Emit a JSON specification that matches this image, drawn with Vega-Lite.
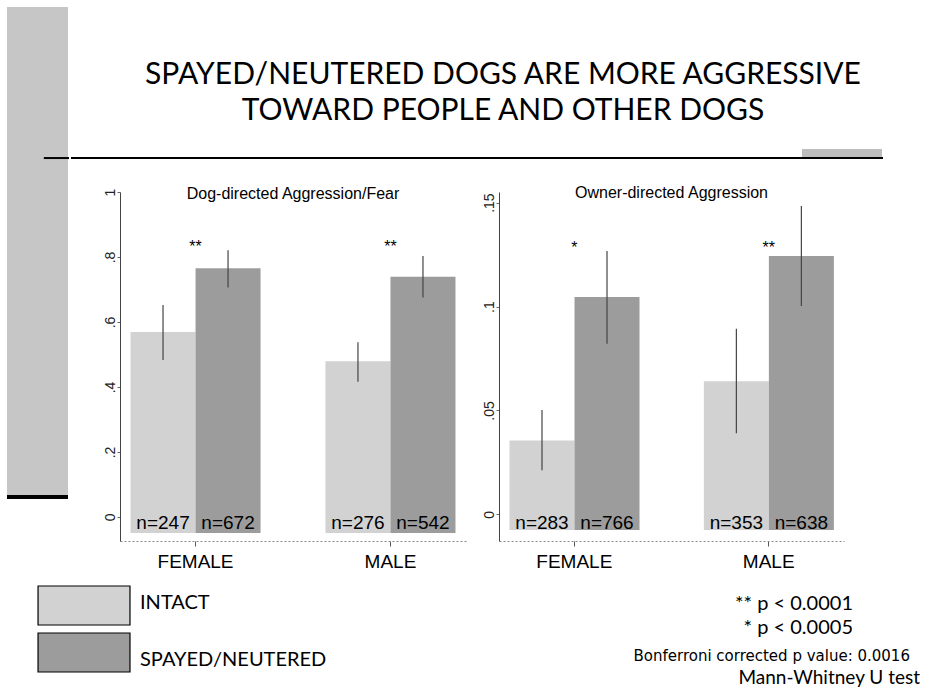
{
  "$schema": "https://vega.github.io/schema/vega-lite/v6.json",
  "background": "white",
  "padding": {"left": 5, "top": 7, "right": 0, "bottom": 0},
  "config": {"view": {"stroke": null}, "font": "Liberation Sans"},
  "datasets": {
    "dog": [
      {"sex": "FEMALE", "group": "INTACT", "mean": 0.569, "lo": 0.483, "hi": 0.652, "n": 247, "sig": ""},
      {"sex": "FEMALE", "group": "SPAYED/NEUTERED", "mean": 0.765, "lo": 0.706, "hi": 0.821, "n": 672, "sig": "**"},
      {"sex": "MALE", "group": "INTACT", "mean": 0.479, "lo": 0.416, "hi": 0.538, "n": 276, "sig": ""},
      {"sex": "MALE", "group": "SPAYED/NEUTERED", "mean": 0.739, "lo": 0.675, "hi": 0.803, "n": 542, "sig": "**"}
    ],
    "owner": [
      {"sex": "FEMALE", "group": "INTACT", "mean": 0.0356, "lo": 0.0212, "hi": 0.0502, "n": 283, "sig": ""},
      {"sex": "FEMALE", "group": "SPAYED/NEUTERED", "mean": 0.1046, "lo": 0.0821, "hi": 0.1267, "n": 766, "sig": "*"},
      {"sex": "MALE", "group": "INTACT", "mean": 0.0641, "lo": 0.039, "hi": 0.0893, "n": 353, "sig": ""},
      {"sex": "MALE", "group": "SPAYED/NEUTERED", "mean": 0.1243, "lo": 0.1002, "hi": 0.1484, "n": 638, "sig": "**"}
    ],
    "groups": [
      {"group": "INTACT"},
      {"group": "SPAYED/NEUTERED"}
    ]
  },
  "spacing": 4,
  "vconcat": [
    {
      "spacing": 0,
      "hconcat": [
        {
          "width": 61,
          "height": 492,
          "data": {"values": [{}]},
          "layer": [
            {
              "mark": {"type": "rect", "color": "#c6c6c6"},
              "encoding": {
                "x": {"datum": 0, "type": "quantitative", "scale": {"domain": [0, 1], "nice": false}, "axis": null},
                "x2": {"datum": 1},
                "y": {"datum": 0.008, "type": "quantitative", "scale": {"domain": [0, 1], "nice": false}, "axis": null},
                "y2": {"datum": 1}
              }
            },
            {
              "mark": {"type": "rule", "color": "black", "strokeWidth": 4},
              "encoding": {
                "x": {"datum": 0, "type": "quantitative"},
                "x2": {"datum": 1},
                "y": {"datum": 0.004, "type": "quantitative"}
              }
            },
            {
              "mark": {"type": "rule", "color": "black", "strokeWidth": 2, "strokeCap": "square"},
              "encoding": {
                "x": {"datum": 0.62, "type": "quantitative"},
                "x2": {"datum": 1},
                "y": {"datum": 0.693, "type": "quantitative"}
              }
            }
          ]
        },
        {
          "spacing": 25,
          "vconcat": [
            {
              "width": 762,
              "height": 151,
              "data": {"values": [{}]},
              "layer": [
                {
                  "mark": {"type": "rect", "color": "#bdbdbd"},
                  "encoding": {
                    "x": {"datum": 0.895, "type": "quantitative", "scale": {"domain": [0, 1], "nice": false}, "axis": null},
                    "x2": {"datum": 1.0},
                    "y": {"datum": 0.0, "type": "quantitative", "scale": {"domain": [0, 1], "nice": false}, "axis": null},
                    "y2": {"datum": 0.06}
                  }
                },
                {
                  "mark": {"type": "rule", "color": "black", "strokeWidth": 2, "strokeCap": "square"},
                  "encoding": {
                    "x": {"datum": -0.063, "type": "quantitative"},
                    "x2": {"datum": 1.0},
                    "y": {"datum": 0, "type": "quantitative"}
                  }
                },
                {
                  "mark": {"type": "text", "text": "SPAYED/NEUTERED DOGS ARE MORE AGGRESSIVE", "font": "Lato", "fontSize": 30, "align": "center", "baseline": "middle", "color": "black"},
                  "encoding": {
                    "x": {"datum": 0.5026, "type": "quantitative"},
                    "y": {"datum": 0.55, "type": "quantitative"}
                  }
                },
                {
                  "mark": {"type": "text", "text": "TOWARD PEOPLE AND OTHER DOGS", "font": "Lato", "fontSize": 30, "align": "center", "baseline": "middle", "color": "black"},
                  "encoding": {
                    "x": {"datum": 0.5026, "type": "quantitative"},
                    "y": {"datum": 0.31, "type": "quantitative"}
                  }
                }
              ]
            },
            {
              "spacing": 10,
              "hconcat": [
                {
                  "data": {"name": "dog"},
                  "width": 346,
                  "height": 349,
                  "title": {"text": "Dog-directed Aggression/Fear", "font": "Liberation Sans", "fontSize": 16, "fontWeight": "normal", "color": "black", "baseline": "alphabetic", "offset": -27, "anchor": "middle", "frame": "group"},
                  "transform": [{"calculate": "'n=' + datum.n", "as": "nlab"}],
                  "encoding": {
                    "x": {
                      "field": "sex", "type": "nominal",
                      "scale": {"paddingInner": 0.333, "paddingOuter": 0.054},
                      "axis": {"title": null, "labelAngle": 0, "labelFont": "Liberation Sans", "labelFontSize": 19, "labelColor": "black", "labelPadding": 6, "tickSize": 5, "tickColor": "#555", "domainColor": "#888", "domainDash": [2, 2]}
                    }
                  },
                  "layer": [
                    {
                      "mark": {"type": "bar"},
                      "encoding": {
                        "xOffset": {"field": "group", "type": "nominal"},
                        "y": {
                          "field": "mean", "type": "quantitative",
                          "scale": {"domain": [-0.074, 1], "nice": false, "zero": false},
                          "axis": {"values": [0, 0.2, 0.4, 0.6, 0.8, 1], "format": "~g", "labelExpr": "replace(datum.label, '0.', '.')", "labelAngle": -90, "labelAlign": "center", "labelBaseline": "bottom", "labelFontSize": 14, "labelColor": "#222", "labelPadding": 0, "tickSize": 3, "tickColor": "#666", "domainColor": "#444", "grid": false, "title": null, "minExtent": 48, "maxExtent": 48}
                        },
                        "y2": {"datum": -0.049},
                        "color": {
                          "field": "group", "type": "nominal",
                          "scale": {"domain": ["INTACT", "SPAYED/NEUTERED"], "range": ["#d2d2d2", "#9c9c9c"]},
                          "legend": null
                        }
                      }
                    },
                    {
                      "mark": {"type": "rule", "color": "#444", "strokeWidth": 1.2},
                      "encoding": {
                        "xOffset": {"field": "group", "type": "nominal"},
                        "y": {"field": "lo", "type": "quantitative"},
                        "y2": {"field": "hi"}
                      }
                    },
                    {
                      "mark": {"type": "text", "font": "Liberation Sans", "fontSize": 19, "baseline": "alphabetic", "align": "center", "color": "black"},
                      "encoding": {
                        "xOffset": {"field": "group", "type": "nominal"},
                        "y": {"datum": -0.037, "type": "quantitative"},
                        "text": {"field": "nlab"}
                      }
                    },
                    {
                      "transform": [{"filter": "datum.sig != ''"}],
                      "mark": {"type": "text", "font": "Liberation Sans", "fontSize": 16, "baseline": "alphabetic", "align": "center", "color": "black"},
                      "encoding": {
                        "y": {"datum": 0.815, "type": "quantitative"},
                        "text": {"field": "sig"}
                      }
                    }
                  ]
                },
                {
                  "data": {"name": "owner"},
                  "width": 345,
                  "height": 349,
                  "title": {"text": "Owner-directed Aggression", "font": "Liberation Sans", "fontSize": 16, "fontWeight": "normal", "color": "black", "baseline": "alphabetic", "offset": -22, "anchor": "middle", "frame": "group"},
                  "transform": [{"calculate": "'n=' + datum.n", "as": "nlab"}],
                  "encoding": {
                    "x": {
                      "field": "sex", "type": "nominal",
                      "scale": {"paddingInner": 0.333, "paddingOuter": 0.054},
                      "axis": {"title": null, "labelAngle": 0, "labelFont": "Liberation Sans", "labelFontSize": 19, "labelColor": "black", "labelPadding": 6, "tickSize": 5, "tickColor": "#555", "domainColor": "#888", "domainDash": [2, 2]}
                    }
                  },
                  "layer": [
                    {
                      "mark": {"type": "bar"},
                      "encoding": {
                        "xOffset": {"field": "group", "type": "nominal"},
                        "y": {
                          "field": "mean", "type": "quantitative",
                          "scale": {"domain": [-0.0128, 0.1551], "nice": false, "zero": false},
                          "axis": {"values": [0, 0.05, 0.1, 0.15], "format": "~g", "labelExpr": "replace(datum.label, '0.', '.')", "labelAngle": -90, "labelAlign": "center", "labelBaseline": "bottom", "labelFontSize": 14, "labelColor": "#222", "labelPadding": 0, "tickSize": 3, "tickColor": "#666", "domainColor": "#444", "grid": false, "title": null, "minExtent": 23, "maxExtent": 23}
                        },
                        "y2": {"datum": -0.0075},
                        "color": {
                          "field": "group", "type": "nominal",
                          "scale": {"domain": ["INTACT", "SPAYED/NEUTERED"], "range": ["#d2d2d2", "#9c9c9c"]},
                          "legend": null
                        }
                      }
                    },
                    {
                      "mark": {"type": "rule", "color": "#444", "strokeWidth": 1.2},
                      "encoding": {
                        "xOffset": {"field": "group", "type": "nominal"},
                        "y": {"field": "lo", "type": "quantitative"},
                        "y2": {"field": "hi"}
                      }
                    },
                    {
                      "mark": {"type": "text", "font": "Liberation Sans", "fontSize": 19, "baseline": "alphabetic", "align": "center", "color": "black"},
                      "encoding": {
                        "xOffset": {"field": "group", "type": "nominal"},
                        "y": {"datum": -0.0068, "type": "quantitative"},
                        "text": {"field": "nlab"}
                      }
                    },
                    {
                      "transform": [{"filter": "datum.sig != ''"}],
                      "mark": {"type": "text", "font": "Liberation Sans", "fontSize": 16, "baseline": "alphabetic", "align": "center", "color": "black"},
                      "encoding": {
                        "y": {"datum": 0.1257, "type": "quantitative"},
                        "text": {"field": "sig"}
                      }
                    }
                  ]
                }
              ]
            }
          ]
        }
      ]
    },
    {
      "width": 913,
      "height": 113,
      "resolve": {"scale": {"y": "independent"}},
      "layer": [
        {
          "data": {"name": "groups"},
          "mark": {"type": "rect", "stroke": "black", "strokeWidth": 1.2},
          "encoding": {
            "x": {"datum": 0.034, "type": "quantitative", "scale": {"domain": [0, 1], "nice": false}, "axis": null},
            "x2": {"datum": 0.1347},
            "y": {"field": "group", "type": "nominal", "scale": {"paddingInner": 0.17, "paddingOuter": 0.287, "align": 0.407}, "axis": null},
            "color": {"field": "group", "type": "nominal", "scale": {"domain": ["INTACT", "SPAYED/NEUTERED"], "range": ["#d2d2d2", "#9c9c9c"]}, "legend": null}
          }
        },
        {
          "data": {"name": "groups"},
          "mark": {"type": "text", "font": "Lato", "fontSize": 20, "align": "left", "baseline": "middle", "color": "black"},
          "encoding": {
            "x": {"datum": 0.1457, "type": "quantitative"},
            "y": {"field": "group", "type": "nominal", "axis": null},
            "text": {"field": "group"}
          }
        },
        {
          "data": {"values": [{}]},
          "layer": [
            {
              "mark": {"type": "text", "text": "** p < 0.0001", "font": "Lato", "fontSize": 20, "align": "right", "baseline": "alphabetic", "color": "black"},
              "encoding": {
                "x": {"datum": 0.9266, "type": "quantitative"},
                "y": {"datum": 0.69, "type": "quantitative", "scale": {"domain": [0, 1], "nice": false}, "axis": null}
              }
            },
            {
              "mark": {"type": "text", "text": "* p < 0.0005", "font": "Lato", "fontSize": 20, "align": "right", "baseline": "alphabetic", "color": "black"},
              "encoding": {
                "x": {"datum": 0.9266, "type": "quantitative"},
                "y": {"datum": 0.478, "type": "quantitative"}
              }
            },
            {
              "mark": {"type": "text", "text": "Bonferroni corrected p value: 0.0016", "font": "DejaVu Sans", "fontSize": 15, "align": "right", "baseline": "alphabetic", "color": "black"},
              "encoding": {
                "x": {"datum": 0.989, "type": "quantitative"},
                "y": {"datum": 0.239, "type": "quantitative"}
              }
            },
            {
              "mark": {"type": "text", "text": "Mann-Whitney U test", "font": "Lato", "fontSize": 19, "align": "right", "baseline": "alphabetic", "color": "black"},
              "encoding": {
                "x": {"datum": 1.0, "type": "quantitative"},
                "y": {"datum": 0.035, "type": "quantitative"}
              }
            }
          ]
        }
      ]
    }
  ]
}
